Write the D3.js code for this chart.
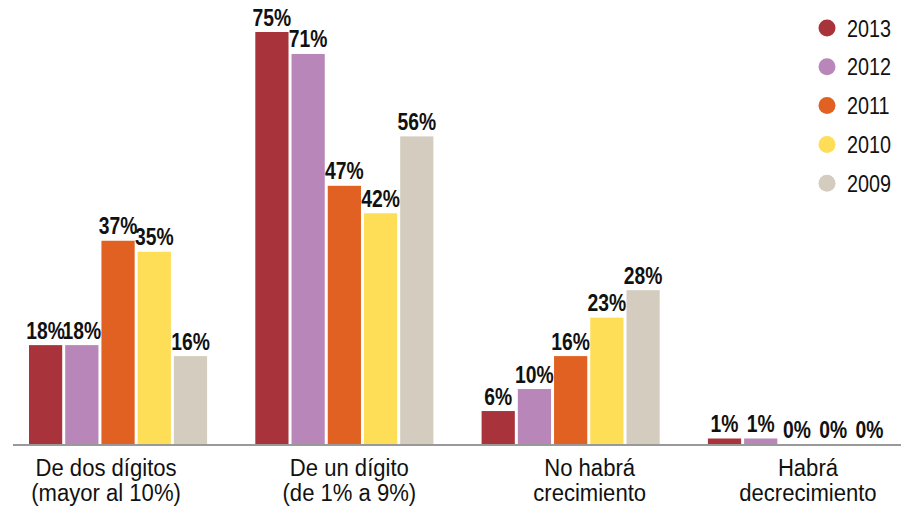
<!DOCTYPE html>
<html>
<head>
<meta charset="utf-8">
<script src="https://cdnjs.cloudflare.com/ajax/libs/d3/7.8.5/d3.min.js"></script>
<style>
  body { margin: 0; background: #fff; }
  svg text { font-family: "Liberation Sans", Arial, sans-serif; fill: #111; }
</style>
</head>
<body>
<div id="chart"></div>
<script>
// Chart data
//=====================================================================
var categories = [
    ["De dos dígitos", "(mayor al 10%)"],
    ["De un dígito", "(de 1% a 9%)"],
    ["No habrá", "crecimiento"],
    ["Habrá", "decrecimiento"]
];
var years = ["2013", "2012", "2011", "2010", "2009"];
var v2013 = [18, 75, 6, 1];
var v2012 = [18, 71, 10, 1];
var v2011 = [37, 47, 16, 0];
var v2010 = [35, 42, 23, 0];
var v2009 = [16, 56, 28, 0];
var colors = ["#a8333b", "#b886b8", "#e06121", "#fedd57", "#d4cdbf"];

var series = [v2013, v2012, v2011, v2010, v2009];

// small nudges for the category labels (as in the original layout)
var labelShift = [-12, 5, 19, 11];

var svgWidth = 901;
var svgHeight = 508;
var baseY = 444;

var svg = d3.select("#chart")
    .append("svg")
    .attr("width", svgWidth)
    .attr("height", svgHeight);

// Scales
//=====================================================================
var catIdx = categories.map((d, i) => i);

var x0 = d3.scaleBand()
    .domain(catIdx)
    .range([29, 886])
    .paddingInner(0.213)
    .paddingOuter(0);

var x1 = d3.scaleBand()
    .domain(years)
    .range([0, x0.bandwidth()])
    .paddingInner(0.083)
    .paddingOuter(0);

var y = d3.scaleLinear()
    .domain([0, 75])
    .range([baseY, 32]);

var rows = [];
catIdx.forEach(function (c) {
    years.forEach(function (yr, j) {
        rows.push({ cat: c, year: yr, value: series[j][c], color: colors[j] });
    });
});

// Bars
//=====================================================================
svg.append("g")
    .selectAll("rect")
    .data(rows)
    .enter()
    .append("rect")
    .attr("x", d => x0(d.cat) + x1(d.year))
    .attr("y", d => y(d.value))
    .attr("width", x1.bandwidth())
    .attr("height", d => baseY - y(d.value))
    .attr("fill", d => d.color);

// Value labels (condensed look via horizontal scale)
svg.append("g")
    .selectAll("text")
    .data(rows)
    .enter()
    .append("text")
    .attr("transform", d => `translate(${x0(d.cat) + x1(d.year) + x1.bandwidth() / 2}, ${y(d.value) - 6.5}) scale(0.84, 1)`)
    .attr("text-anchor", "middle")
    .style("font-size", "23px")
    .style("font-weight", "bold")
    .text(d => d.value + "%");

// Baseline
svg.append("line")
    .attr("x1", 13)
    .attr("x2", svgWidth)
    .attr("y1", baseY + 1)
    .attr("y2", baseY + 1)
    .attr("stroke", "#999")
    .attr("stroke-width", 2);

// Category axis
//=====================================================================
var bottomAxis = d3.axisBottom(x0).tickSize(0).tickFormat("");
var axisG = svg.append("g")
    .attr("transform", `translate(0, ${baseY})`)
    .call(bottomAxis);
axisG.select(".domain").remove();

axisG.selectAll(".tick").each(function (c) {
    var t = d3.select(this).append("text")
        .attr("transform", `translate(${labelShift[c]}, 32) scale(0.96, 1)`)
        .attr("text-anchor", "middle")
        .style("font-size", "23px")
        .style("fill", "#111");
    categories[c].forEach(function (line, k) {
        t.append("tspan")
            .attr("x", 0)
            .attr("dy", k === 0 ? 0 : 25.5)
            .text(line);
    });
});

// Legend
//=====================================================================
var legend = svg.append("g")
    .selectAll("g")
    .data(years)
    .enter()
    .append("g")
    .attr("transform", (d, i) => `translate(827, ${28 + i * 38.8})`);

legend.append("circle")
    .attr("r", 8.5)
    .attr("fill", (d, i) => colors[i]);

legend.append("text")
    .attr("transform", "translate(20, 8.5) scale(0.86, 1)")
    .style("font-size", "23px")
    .text(d => d);
</script>
</body>
</html>
